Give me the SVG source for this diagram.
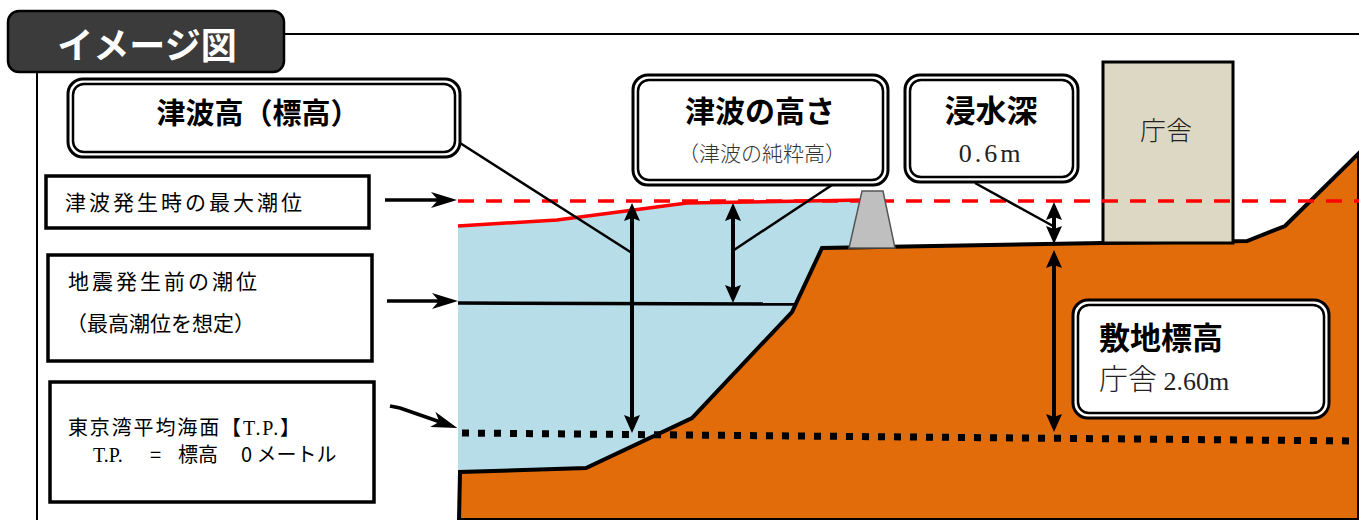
<svg xmlns="http://www.w3.org/2000/svg" width="1359" height="520" viewBox="0 0 1359 520">
  <style>
    .gothic { font-family: "Noto Sans CJK JP", "Noto Sans", sans-serif; }
    .bold { font-weight: 700; }
    .thin { font-weight: 300; }
    .serif { font-family: "Liberation Serif", "Noto Sans CJK JP", serif; }
    .outer { fill: #ffffff; stroke: #000000; stroke-width: 3; }
    .inner { fill: #ffffff; stroke: #000000; stroke-width: 2.5; }
    .box { fill: #ffffff; stroke: #000000; stroke-width: 3.5; }
    .lead { stroke: #000000; stroke-width: 2.5; fill: none; }
    .dim { stroke: #000000; stroke-width: 4; fill: none; marker-start: url(#tri); marker-end: url(#tri); }
    .ptr { stroke: #000000; stroke-width: 3.5; fill: none; marker-end: url(#stealth); }
  </style>
  <defs>
    <marker id="tri" viewBox="0 0 18 16" markerWidth="18" markerHeight="16" refX="9" refY="8" orient="auto-start-reverse" markerUnits="userSpaceOnUse">
      <path d="M0,0 L18,8 L0,16 L3,8 Z" fill="#000000"/>
    </marker>
    <marker id="stealth" viewBox="0 0 26 16" markerWidth="26" markerHeight="16" refX="14" refY="8" orient="auto" markerUnits="userSpaceOnUse">
      <path d="M0,0 L26,8 L0,16 L7,8 Z" fill="#000000"/>
    </marker>
  </defs>

  <!-- frame: title tab, top rule, left rule -->
  <g id="frame">
    <line x1="284" y1="34" x2="1359" y2="34" stroke="#000" stroke-width="2"/>
    <line x1="37" y1="70" x2="37" y2="520" stroke="#000" stroke-width="2"/>
    <rect x="8" y="11" width="276" height="61" rx="11" fill="#3b3b3b" stroke="#000" stroke-width="2.5"/>
    <text x="147" y="59" text-anchor="middle" class="gothic bold" font-size="36" fill="#ffffff">イメージ図</text>
  </g>

  <!-- cross-section -->
  <g id="section">
    <!-- sea -->
    <polygon points="458,226 557,221 687,203 862,200 849,248 822,248 792,312 692,418 586,468 458,472" fill="#b7dde8"/>
    <!-- tsunami crest -->
    <polyline points="458,226 557,220 687,203 864,200" fill="none" stroke="#ff0000" stroke-width="3.5"/>
    <!-- ground -->
    <polygon points="459,520 460,472 586,468 692,418 792,312 822,248 1103,243 1247,241 1285,226 1359,153 1359,520" fill="#e26b0a" stroke="#000" stroke-width="4" stroke-linejoin="miter"/>
    <!-- government building -->
    <g id="building">
      <rect x="1103" y="62" width="130" height="181" fill="#ddd8c4" stroke="#000" stroke-width="3"/>
      <text x="1166" y="140" text-anchor="middle" class="gothic thin" font-size="26" fill="#222">庁舎</text>
    </g>
    <!-- max tide level -->
    <line x1="458" y1="201" x2="1359" y2="201" stroke="#ff0000" stroke-width="3.5" stroke-dasharray="16 12"/>
    <!-- seawall -->
    <polygon points="862,191 883,191 895,248 849,248" fill="#bfbfbf" stroke="#555" stroke-width="1.5"/>
    <!-- tide level before the earthquake -->
    <line x1="458" y1="303" x2="797" y2="304" stroke="#000" stroke-width="3.5"/>
    <!-- T.P. datum -->
    <line x1="462" y1="433" x2="1359" y2="441" stroke="#000" stroke-width="7" stroke-dasharray="7 9"/>
  </g>

  <g id="connectors">
    <!-- dimension arrows -->
    <line class="dim" x1="632" y1="212" x2="632" y2="424"/>
    <line class="dim" x1="733" y1="212" x2="733" y2="294"/>
    <line class="dim" x1="1054" y1="211" x2="1054" y2="235"/>
    <line class="dim" x1="1054" y1="259" x2="1054" y2="423"/>
    <!-- leaders from callouts -->
    <line class="lead" x1="460" y1="143" x2="632" y2="253"/>
    <line class="lead" x1="835" y1="183" x2="734" y2="250"/>
    <line class="lead" x1="975" y1="183" x2="1053" y2="226"/>
    <!-- pointers from legend boxes -->
    <line class="ptr" x1="385" y1="200" x2="445" y2="200"/>
    <line class="ptr" x1="387" y1="301" x2="446" y2="301"/>
    <path class="ptr" d="M390,406 L400,408 L446,424"/>
  </g>

  <!-- callouts -->
  <g id="callout-tsunami-elevation">
    <rect class="outer" x="68" y="79" width="392" height="78" rx="15"/>
    <rect class="inner" x="73" y="84" width="382" height="68" rx="11"/>
    <text x="258" y="124" text-anchor="middle" class="gothic bold" font-size="29">津波高（標高）</text>
  </g>

  <g id="callout-tsunami-height">
    <rect class="outer" x="633" y="75" width="255" height="110" rx="15"/>
    <rect class="inner" x="638" y="80" width="245" height="100" rx="11"/>
    <text x="760" y="122" text-anchor="middle" class="gothic bold" font-size="30">津波の高さ</text>
    <text x="762" y="161" text-anchor="middle" class="gothic thin" font-size="21" fill="#333">（津波の純粋高）</text>
  </g>

  <g id="callout-inundation">
    <rect class="outer" x="905" y="75" width="173" height="107" rx="15"/>
    <rect class="inner" x="910" y="80" width="163" height="97" rx="11"/>
    <text x="991" y="122" text-anchor="middle" class="gothic bold" font-size="31">浸水深</text>
    <text x="991" y="162" text-anchor="middle" class="serif" font-size="26" letter-spacing="3" fill="#222">0.6m</text>
  </g>

  <g id="callout-site-elevation">
    <rect class="outer" x="1073" y="300" width="256" height="118" rx="15"/>
    <rect class="inner" x="1078" y="305" width="246" height="108" rx="11"/>
    <text x="1099" y="349" class="gothic bold" font-size="31">敷地標高</text>
    <text x="1099" y="390" class="gothic thin" font-size="29" fill="#222">庁舎 <tspan class="serif" font-size="26" font-weight="400">2.60m</tspan></text>
  </g>

  <!-- legend boxes -->
  <g id="legend-max-tide">
    <rect class="box" x="46" y="176" width="323" height="52"/>
    <text x="65" y="210" class="gothic" font-size="21" textLength="237" lengthAdjust="spacing">津波発生時の最大潮位</text>
  </g>

  <g id="legend-pre-quake-tide">
    <rect class="box" x="48" y="255" width="324" height="106"/>
    <text x="68" y="289" class="gothic" font-size="21" textLength="189" lengthAdjust="spacing">地震発生前の潮位</text>
    <text x="66" y="331" class="gothic" font-size="21" textLength="189" lengthAdjust="spacing">（最高潮位を想定）</text>
  </g>

  <g id="legend-tp">
    <rect class="box" x="50" y="382" width="324" height="120"/>
    <text x="68" y="435" class="gothic" font-size="20" textLength="232" lengthAdjust="spacing">東京湾平均海面<tspan class="serif">【T.P.】</tspan></text>
    <text x="93" y="462" class="gothic" font-size="20"><tspan class="serif">T.P.</tspan><tspan x="150">=</tspan><tspan x="178">標高</tspan><tspan x="241">0 メートル</tspan></text>
  </g>
</svg>
